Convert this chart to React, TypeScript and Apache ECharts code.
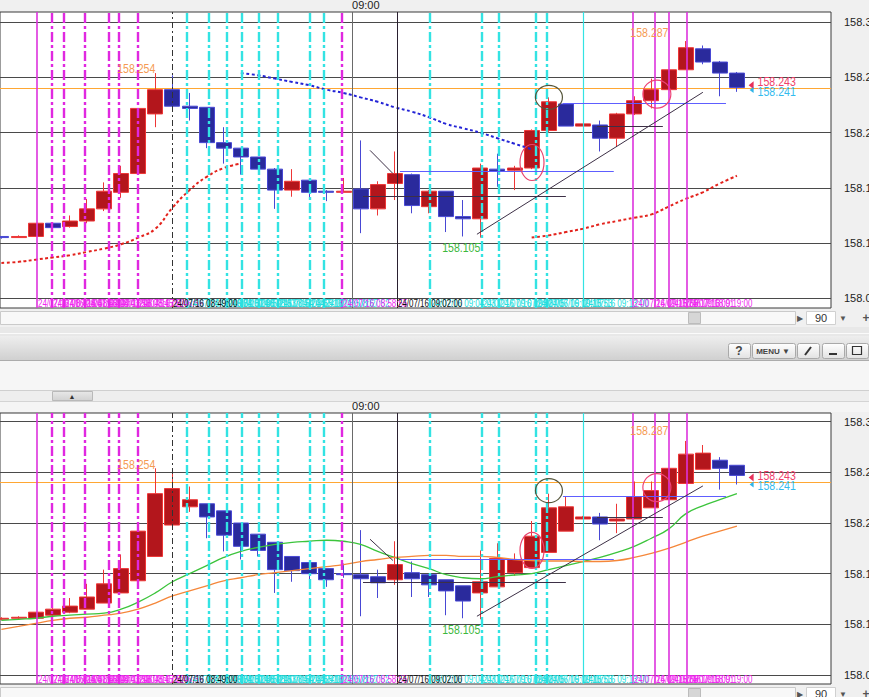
import React, { useEffect, useRef } from 'react';
import * as echarts from 'echarts';

// ---------------- data ----------------
const Y_TICKS = [158.05, 158.1, 158.15, 158.2, 158.25, 158.3];
const HEADER_TIME_POS = [20.5];
const HEADER_TIME_TEXT = ['09:00'];

// top panel : ordinary 1-minute candles
const TOP_OPEN = [158.106, 158.105, 158.106, 158.118, 158.115, 158.120, 158.131, 158.146, 158.163, 158.217, 158.239, 158.224, 158.223, 158.191, 158.186, 158.178, 158.167, 158.148, 158.157, 158.147, 158.146, 158.149, 158.131, 158.154, 158.162, 158.133, 158.147, 158.124, 158.122, 158.167, 158.166, 158.168, 158.202, 158.226, 158.206, 158.207, 158.195, 158.217, 158.229, 158.239, 158.257, 158.276, 158.264, 158.254];
const TOP_CLOSE = [158.105, 158.106, 158.118, 158.114, 158.120, 158.131, 158.147, 158.163, 158.222, 158.239, 158.224, 158.222, 158.191, 158.186, 158.178, 158.167, 158.148, 158.156, 158.146, 158.146, 158.147, 158.131, 158.153, 158.163, 158.134, 158.147, 158.124, 158.122, 158.168, 158.165, 158.168, 158.202, 158.228, 158.206, 158.208, 158.195, 158.217, 158.229, 158.239, 158.257, 158.277, 158.264, 158.254, 158.241];
const TOP_LOW = [158.104, 158.105, 158.106, 158.110, 158.114, 158.118, 158.129, 158.141, 158.162, 158.205, 158.224, 158.211, 158.186, 158.172, 158.162, 158.167, 158.131, 158.142, 158.141, 158.138, 158.146, 158.109, 158.125, 158.139, 158.127, 158.127, 158.110, 158.106, 158.105, 158.151, 158.148, 158.167, 158.200, 158.206, 158.206, 158.183, 158.187, 158.216, 158.222, 158.239, 158.257, 158.262, 158.233, 158.237];
const TOP_HIGH = [158.106, 158.107, 158.118, 158.118, 158.125, 158.140, 158.155, 158.170, 158.222, 158.254, 158.252, 158.236, 158.223, 158.205, 158.186, 158.178, 158.168, 158.167, 158.158, 158.148, 158.159, 158.193, 158.156, 158.183, 158.163, 158.148, 158.147, 158.139, 158.172, 158.181, 158.170, 158.203, 158.232, 158.226, 158.208, 158.211, 158.218, 158.233, 158.249, 158.257, 158.283, 158.279, 158.265, 158.255];
const TOP_MA_RED = [158.082, 158.083, 158.085, 158.087, 158.089, 158.092, 158.095, 158.099, 158.105, 158.113, 158.132, 158.148, 158.160, 158.168, 158.172, null, null, null, null, null, null, null, null, null, null, null, null, null, null, null, null, 158.105, 158.107, 158.110, 158.113, 158.117, 158.120, 158.123, 158.126, 158.133, 158.140, 158.146, 158.154, 158.161];
const TOP_MA_BLUE = [null, null, null, null, null, null, null, null, null, null, null, null, null, null, 158.254, 158.252, 158.249, 158.246, 158.243, 158.239, 158.236, 158.232, 158.228, 158.223, 158.219, 158.214, 158.208, 158.204, 158.200, 158.195, 158.190, 158.185, null, null, null, null, null, null, null, null, null, null, null, null];

// bottom panel : Heikin-Ashi candles
const HA_OPEN = [158.105, 158.106, 158.106, 158.109, 158.112, 158.115, 158.121, 158.131, 158.143, 158.167, 158.198, 158.216, 158.219, 158.212, 158.200, 158.189, 158.181, 158.167, 158.161, 158.155, 158.150, 158.149, 158.147, 158.144, 158.151, 158.149, 158.144, 158.138, 158.131, 158.137, 158.151, 158.156, 158.171, 158.192, 158.204, 158.206, 158.202, 158.204, 158.215, 158.223, 158.239, 158.253, 158.262, 158.257];
const HA_CLOSE = [158.106, 158.107, 158.112, 158.115, 158.118, 158.127, 158.140, 158.155, 158.192, 158.229, 158.234, 158.223, 158.206, 158.188, 158.177, 158.173, 158.154, 158.153, 158.150, 158.144, 158.149, 158.145, 158.141, 158.159, 158.145, 158.139, 158.133, 158.123, 158.142, 158.165, 158.164, 158.187, 158.215, 158.216, 158.206, 158.199, 158.204, 158.226, 158.232, 158.254, 158.268, 158.269, 158.254, 158.247];
const HA_LOW = [158.104, 158.105, 158.106, 158.108, 158.111, 158.115, 158.121, 158.131, 158.143, 158.167, 158.198, 158.211, 158.185, 158.172, 158.164, 158.167, 158.131, 158.142, 158.141, 158.137, 158.146, 158.108, 158.126, 158.139, 158.127, 158.127, 158.109, 158.106, 158.105, 158.137, 158.148, 158.156, 158.171, 158.192, 158.204, 158.183, 158.190, 158.204, 158.215, 158.223, 158.239, 158.253, 158.233, 158.238];
const HA_HIGH = [158.107, 158.108, 158.112, 158.116, 158.126, 158.140, 158.154, 158.169, 158.192, 158.254, 158.251, 158.236, 158.219, 158.212, 158.200, 158.189, 158.181, 158.167, 158.161, 158.155, 158.160, 158.193, 158.154, 158.182, 158.162, 158.149, 158.144, 158.138, 158.173, 158.180, 158.170, 158.202, 158.229, 158.226, 158.207, 158.210, 158.219, 158.241, 158.241, 158.254, 158.281, 158.277, 158.265, 158.257];
const HA_MA_GREEN = [158.104, 158.105, 158.106, 158.108, 158.109, 158.110, 158.111, 158.115, 158.122, 158.131, 158.142, 158.150, 158.158, 158.166, 158.172, 158.176, 158.179, 158.181, 158.182, 158.183, 158.182, 158.179, 158.172, 158.166, 158.160, 158.155, 158.149, 158.146, 158.145, 158.147, 158.1487, 158.150, 158.154, 158.158, 158.162, 158.166, 158.171, 158.177, 158.185, 158.194, 158.209, 158.217, 158.223, 158.229];
const HA_MA_ORANGE = [158.095, 158.098, 158.101, 158.104, 158.106, 158.107, 158.109, 158.111, 158.115, 158.121, 158.128, 158.133, 158.138, 158.143, 158.146, 158.149, 158.151, 158.153, 158.155, 158.157, 158.159, 158.162, 158.164, 158.166, 158.167, 158.168, 158.168, 158.167, 158.167, 158.166, 158.164, 158.163, 158.1625, 158.1625, 158.162, 158.162, 158.163, 158.166, 158.170, 158.175, 158.181, 158.187, 158.192, 158.197];

const LAST_PRICE = 158.241;
const BID_PRICE = 158.243;
const TAG_X = 43.8;

// vertical time lines (x in candle units)
const VLINE_POS = [2.08, 2.96, 3.66, 4.89, 6.29, 6.87, 7.98, 9.97, 10.85, 12.14, 13.19, 14.06, 15.06, 16.17, 18.04, 18.86, 19.91, 20.5, 23.12, 25.05, 28.09, 29.09, 31.25, 31.89, 34.0, 36.92, 38.21, 39.02, 40.08];
const VLINE_KIND = ['mSolid', 'mDash', 'mDash', 'mDash', 'mDash', 'mDash', 'mDash', 'kDash', 'cDash', 'cDash', 'cDash', 'cDash', 'cDash', 'cDash', 'cDash', 'cDash', 'mDash', 'gSolid', 'kSolid', 'cDash', 'cDash', 'cDash', 'cDash', 'cDash', 'cSolid', 'mSolid', 'mSolid', 'mSolid', 'mSolid'];
const VLINE_LABEL = ['24/07/16 08:41:05', '24/07/16 08:41:58', '24/07/16 08:42:40', '24/07/16 08:43:53', '24/07/16 08:45:17', '24/07/16 08:45:52', '24/07/16 08:46:59', '24/07/16 08:49:00', '24/07/16 08:49:51', '24/07/16 08:51:08', '24/07/16 08:52:11', '24/07/16 08:53:04', '24/07/16 08:54:04', '24/07/16 08:55:10', '24/07/16 08:57:02', '24/07/16 08:57:52', '24/07/16 08:58:55', '', '24/07/16 09:02:00', '24/07/16 09:04:03', '24/07/16 09:07:05', '24/07/16 09:08:05', '24/07/16 09:10:15', '24/07/16 09:10:53', '24/07/16 09:13:00', '24/07/16 09:15:55', '24/07/16 09:17:13', '24/07/16 09:18:01', '24/07/16 09:19:00'];

// drawn line tools (x in candle units, price)
const SEG_START = [[23.3, 158.1647], [21.14, 158.142], [32.83, 158.2266], [34.82, 158.2054], [27.8, 158.108], [21.55, 158.184]];
const SEG_END = [[35.8, 158.1647], [33.0, 158.142], [42.36, 158.2266], [38.67, 158.2054], [41.01, 158.2366], [22.89, 158.163]];
const SEG_KIND = ['blue', 'dark', 'blue', 'dark', 'dark', 'dark'];

// circles / ellipses
const SHAPE_X = [31.02, 32.01, 38.32];
const SHAPE_PRICE = [158.173, 158.232, 158.235];
const SHAPE_KIND = ['ellipse', 'olive', 'pink'];

// high / low labels
const HL_X = [9, 39, 28];
const HL_PRICE = [158.254, 158.287, 158.105];
const HL_KIND = ['high', 'high', 'low'];

// ---------------- styles ----------------
const SANS = "'Liberation Sans', Arial, sans-serif";
const VLINE_STYLE: any = {
  mSolid: { color: '#dd33dd', width: 1.6, type: 'solid' },
  mDash: { color: '#e028e0', width: 2.4, type: [10, 3, 3, 3] },
  cDash: { color: '#33e3e3', width: 2.4, type: [10, 3, 3, 3] },
  kDash: { color: '#333333', width: 1, type: [6, 3, 2, 3] },
  gSolid: { color: '#6a6a6a', width: 1, type: 'solid' },
  kSolid: { color: '#2a2030', width: 1, type: 'solid' },
  cSolid: { color: '#33e3e3', width: 1.2, type: 'solid' },
};
const VLINE_TEXT_COLOR: any = { m: '#f028f0', c: '#22dede', k: '#111111', g: '' };
const SEG_STYLE: any = {
  blue: { color: '#5e5eff', width: 1.2 },
  dark: { color: '#3d3046', width: 1 },
};
const SHAPE_STYLE: any = {
  ellipse: { rx: 12, ry: 18, stroke: '#e8456e' },
  olive: { rx: 13.5, ry: 12, stroke: '#55553a' },
  pink: { rx: 14, ry: 14, stroke: '#ee4477' },
};

const X_MIN = -0.082;
const X_MAX = 48.5;

const PANELS = [
  {
    top: 12, height: 296, yMin: 158.04121, yMax: 158.30933,
    open: TOP_OPEN, close: TOP_CLOSE, low: TOP_LOW, high: TOP_HIGH,
    mas: [
      { data: TOP_MA_RED, color: '#e3221c', type: [3, 2.5], width: 2, smooth: true },
      { data: TOP_MA_BLUE, color: '#2424d6', type: [3, 2.5], width: 2, smooth: true },
    ],
    tagDy: [-3.5, 4, 0, 2.5],
  },
  {
    top: 413, height: 271, yMin: 158.04112, yMax: 158.30859,
    open: HA_OPEN, close: HA_CLOSE, low: HA_LOW, high: HA_HIGH,
    mas: [
      { data: HA_MA_GREEN, color: '#3cc43c', type: 'solid', width: 1.3, smooth: true },
      { data: HA_MA_ORANGE, color: '#f5873a', type: 'solid', width: 1.3, smooth: true },
    ],
    tagDy: [-3.5, 4.5, -2, 3],
  },
];

function buildOption() {
  const grid: any[] = [];
  const xAxis: any[] = [];
  const yAxis: any[] = [];
  const series: any[] = [];

  PANELS.forEach((p, gi) => {
    grid.push({
      left: 0, top: p.top, width: 831, height: p.height,
      show: true, backgroundColor: '#ffffff', borderColor: '#3a3a3a', borderWidth: 1,
      containLabel: false, outerBoundsMode: 'none',
    });
    xAxis.push({
      type: 'value', gridIndex: gi, min: X_MIN, max: X_MAX, position: 'top',
      axisLine: { show: false }, axisTick: { show: false }, splitLine: { show: false },
      axisLabel: {
        customValues: HEADER_TIME_POS,
        formatter: (v: number) => HEADER_TIME_TEXT[HEADER_TIME_POS.indexOf(v)] ?? '09:00',
        align: 'left', margin: 2, fontSize: 11, color: '#222', fontFamily: SANS,
      },
    });
    yAxis.push({
      type: 'value', gridIndex: gi, min: p.yMin, max: p.yMax, position: 'right', scale: true,
      axisLine: { show: false }, axisTick: { show: false }, splitLine: { show: false },
      axisLabel: {
        customValues: Y_TICKS,
        formatter: (v: number) => v.toFixed(2),
        margin: 13, fontSize: 11, color: '#222', fontFamily: SANS, align: 'left',
      },
    });

    // horizontal grid lines + price line (behind the candles)
    series.push({
      type: 'line', xAxisIndex: gi, yAxisIndex: gi, data: [], silent: true, z: 1,
      markLine: {
        z: 1, silent: true, symbol: ['none', 'none'], label: { show: false },
        lineStyle: { color: '#4a4a4a', width: 1, type: 'solid' },
        emphasis: { disabled: true },
        data: [
          ...Y_TICKS.map((v) => ({ yAxis: v })),
          { yAxis: LAST_PRICE, lineStyle: { color: '#ffa733', width: 1, type: 'solid' } },
        ],
      },
    });

    series.push({
      type: 'candlestick', xAxisIndex: gi, yAxisIndex: gi, z: 2, silent: true,
      barWidth: 15.5,
      encode: { x: 0, y: [1, 2, 3, 4] },
      data: p.open.map((o, i) => [i, o, p.close[i], p.low[i], p.high[i]]),
      itemStyle: {
        color: '#b3161c', color0: '#2a2a9c',
        borderColor: '#ee3636', borderColor0: '#4848d4', borderWidth: 1,
      },
    });

    p.mas.forEach((m) => {
      series.push({
        type: 'line', xAxisIndex: gi, yAxisIndex: gi, z: 3, silent: true,
        data: m.data.map((v, i) => [i, v == null ? '-' : v]),
        showSymbol: false, symbol: 'none', smooth: m.smooth, connectNulls: false,
        lineStyle: { color: m.color, width: m.width, type: m.type },
      });
    });

    // vertical time lines + drawn tools
    series.push({
      type: 'line', xAxisIndex: gi, yAxisIndex: gi, data: [], silent: true, z: 5,
      markLine: {
        z: 5, silent: true, symbol: ['none', 'none'], label: { show: false },
        emphasis: { disabled: true },
        data: [
          ...VLINE_POS.map((v, k) => ({ xAxis: v, lineStyle: { ...VLINE_STYLE[VLINE_KIND[k]] } })),
          ...SEG_START.map((s, k) => [
            { coord: s, lineStyle: { ...SEG_STYLE[SEG_KIND[k]], type: 'solid' } },
            { coord: SEG_END[k] },
          ]),
        ],
      },
    });

    // annotations: shapes, labels, price tags, time labels
    series.push({
      type: 'custom', xAxisIndex: gi, yAxisIndex: gi, z: 6, silent: true, clip: false,
      data: [[20, 158.2]],
      encode: { x: 0, y: 1 },
      renderItem: (params: any, api: any) => {
        const cs = params.coordSys;
        const children: any[] = [];
        SHAPE_X.forEach((x, k) => {
          const c = api.coord([x, SHAPE_PRICE[k]]);
          const st = SHAPE_STYLE[SHAPE_KIND[k]];
          children.push({
            type: 'ellipse', shape: { cx: c[0], cy: c[1], rx: st.rx, ry: st.ry },
            style: { fill: 'none', stroke: st.stroke, lineWidth: 1.2 },
          });
        });
        HL_X.forEach((x, k) => {
          const c = api.coord([x, HL_PRICE[k]]);
          const isLow = HL_KIND[k] === 'low';
          children.push({
            type: 'text', x: c[0], y: isLow ? c[1] + 10 : c[1] - 4, scaleX: 0.88,
            style: {
              text: HL_PRICE[k].toFixed(3), fill: isLow ? '#3db83d' : '#f59a52',
              font: `12px ${SANS}`, align: 'right', verticalAlign: 'middle',
            },
          });
        });
        // price tags
        const tb = api.coord([TAG_X, BID_PRICE]);
        const ta = api.coord([TAG_X, LAST_PRICE]);
        const dy = p.tagDy;
        children.push({
          type: 'polygon',
          shape: { points: [[tb[0] - 2, tb[1] + dy[2]], [tb[0] + 3, tb[1] + dy[2] - 4], [tb[0] + 3, tb[1] + dy[2] + 4]] },
          style: { fill: '#e8305a' },
        });
        children.push({
          type: 'polygon',
          shape: { points: [[ta[0] - 1, ta[1] + dy[3]], [ta[0] + 3, ta[1] + dy[3] - 3], [ta[0] + 3, ta[1] + dy[3] + 3]] },
          style: { fill: '#2fb4e8' },
        });
        children.push({
          type: 'text', x: tb[0] + 7, y: tb[1] + dy[0], scaleX: 0.88,
          style: { text: BID_PRICE.toFixed(3), fill: '#f0406a', font: `12px ${SANS}`, align: 'left', verticalAlign: 'middle' },
        });
        children.push({
          type: 'text', x: ta[0] + 7, y: ta[1] + dy[1], scaleX: 0.88,
          style: { text: LAST_PRICE.toFixed(3), fill: '#33bbee', font: `12px ${SANS}`, align: 'left', verticalAlign: 'middle' },
        });
        // time labels along the bottom of the plot, black ones on top
        const order = VLINE_POS.map((_, k) => k).sort((a, b) => {
          const ka = VLINE_KIND[a][0] === 'k' ? 1 : 0;
          const kb = VLINE_KIND[b][0] === 'k' ? 1 : 0;
          return ka - kb || a - b;
        });
        order.forEach((k) => {
          const col = VLINE_TEXT_COLOR[VLINE_KIND[k][0]];
          if (!col || !VLINE_LABEL[k]) return;
          const c = api.coord([VLINE_POS[k], p.yMin]);
          children.push({
            type: 'text', x: c[0] + 1, y: cs.y + cs.height - 4, scaleX: 0.8,
            style: { text: VLINE_LABEL[k], fill: col, font: `10px ${SANS}`, align: 'left', verticalAlign: 'middle' },
          });
        });
        return { type: 'group', children };
      },
    });
  });

  const grad = (a: string, b: string) =>
    new echarts.graphic.LinearGradient(0, 0, 0, 1, [{ offset: 0, color: a }, { offset: 1, color: b }]);
  const txt = (x: number, y: number, text: string, font: string, fill = '#555', align = 'center') => ({
    type: 'text', x, y, style: { text, font, fill, align, verticalAlign: 'middle' },
  });
  const scrollRow = (y: number) => [
    { type: 'rect', shape: { x: 0.5, y: y + 0.5, width: 795, height: 13 }, style: { fill: '#f8f8f8', stroke: '#cacaca' } },
    { type: 'rect', shape: { x: 688.5, y: y + 1.5, width: 12, height: 11 }, style: { fill: '#d6d6d6', stroke: '#bcbcbc' } },
    txt(800, y + 7, '▶', '8px sans-serif'),
    { type: 'rect', shape: { x: 806.5, y: y + 0.5, width: 29, height: 13 }, style: { fill: '#ffffff', stroke: '#d0d0d0' } },
    txt(815, y + 7, '90', `11px ${SANS}`, '#333', 'left'),
    txt(843, y + 7, '▼', '8px sans-serif'),
    txt(866, y + 7, '+', 'bold 12px sans-serif'),
  ];
  const button = (x: number, w: number) => ({
    type: 'rect', shape: { x: x + 0.5, y: 343.5, width: w, height: 15, r: 2 },
    style: { fill: grad('#ffffff', '#e2e2e2'), stroke: '#a9a9a9' },
  });

  const graphic: any[] = [
    ...scrollRow(311),
    { type: 'rect', shape: { x: 0, y: 327, width: 869, height: 9 }, style: { fill: '#e8e8e8' } },
    { type: 'line', shape: { x1: 0, y1: 333.5, x2: 869, y2: 333.5 }, style: { stroke: '#fbfbfb' } },
    { type: 'rect', shape: { x: 0, y: 336, width: 869, height: 25 }, style: { fill: grad('#eeeeee', '#cfcfcf') } },
    { type: 'line', shape: { x1: 0, y1: 360.5, x2: 869, y2: 360.5 }, style: { stroke: '#acacac' } },
    button(728, 22), txt(739, 351, '?', 'bold 12px sans-serif', '#444'),
    button(752, 43), txt(773, 351, 'MENU ▼', 'bold 8px sans-serif', '#444'),
    button(797, 22),
    { type: 'line', shape: { x1: 805, y1: 355, x2: 811, y2: 347 }, style: { stroke: '#333', lineWidth: 2 } },
    button(822, 22),
    { type: 'line', shape: { x1: 829, y1: 354, x2: 837, y2: 354 }, style: { stroke: '#333', lineWidth: 2 } },
    button(846, 22),
    { type: 'rect', shape: { x: 852.5, y: 346.5, width: 9, height: 8 }, style: { fill: 'none', stroke: '#333', lineWidth: 1.2 } },
    { type: 'rect', shape: { x: 0, y: 361, width: 869, height: 29 }, style: { fill: '#f6f6f6' } },
    { type: 'line', shape: { x1: 0, y1: 390.5, x2: 869, y2: 390.5 }, style: { stroke: '#cfcfcf' } },
    { type: 'rect', shape: { x: 0, y: 391, width: 869, height: 10 }, style: { fill: '#eeeeee' } },
    { type: 'rect', shape: { x: 52.5, y: 391.5, width: 40, height: 9 }, style: { fill: grad('#e8e8e8', '#d2d2d2'), stroke: '#b9b9b9' } },
    txt(72, 396, '▲', '7px sans-serif', '#333'),
    { type: 'line', shape: { x1: 0, y1: 401.5, x2: 869, y2: 401.5 }, style: { stroke: '#d4d4d4' } },
    { type: 'rect', shape: { x: 0, y: 402, width: 869, height: 10 }, style: { fill: '#f5f5f5' } },
    ...scrollRow(687),
  ];

  return {
    animation: false,
    backgroundColor: '#f0f0f0',
    grid, xAxis, yAxis, series, graphic,
  };
}

export default function App() {
  const ref = useRef<HTMLDivElement>(null);
  useEffect(() => {
    if (!ref.current) return;
    const chart = echarts.init(ref.current, null, { renderer: 'svg' });
    chart.setOption(buildOption() as any);
    return () => chart.dispose();
  }, []);
  return <div ref={ref} style={{ position: 'absolute', left: 0, top: 0, width: 869, height: 697 }} />;
}
